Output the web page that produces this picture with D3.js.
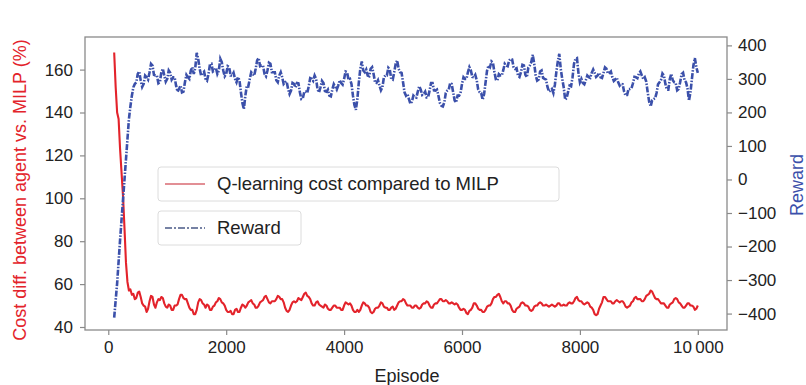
<!DOCTYPE html>
<html lang="en">
<head>
<meta charset="utf-8">
<script src="https://d3js.org/d3.v7.min.js"></script>
<style>
  body { margin: 0; background: #fff; }
  svg { font-family: "Liberation Sans", Arial, Helvetica, sans-serif; }
</style>
</head>
<body>
<script>
// episodes sampled every 25 from 100 to 10000
var episodes = d3.range(100, 10001, 25);

// cost difference vs MILP (%)
var costDiff = [
  168, 152, 140, 137, 123, 112, 101, 86, 70, 61, 57, 57.5, 55, 55.5, 53, 53.5, 56, 56.5, 54, 51,
  50, 49.5, 47, 48.5, 52, 54.5, 54, 50.5, 49, 51.5, 53, 52.5, 54, 53.5, 51, 49.5, 49, 50.5, 50, 48,
  48, 50, 50, 50.5, 53, 55, 55, 53.5, 53, 53, 51, 49, 48, 48, 46, 46, 48, 51.5, 53, 52.5,
  51, 50.5, 49, 50.5, 50, 48, 48, 49.5, 50, 51.5, 52, 53.5, 53, 51.5, 51, 50, 48, 47, 47, 47.5,
  46, 46, 48, 48.5, 47, 47, 49, 50.5, 50, 49, 50, 51.5, 52, 52.5, 51, 50.5, 49, 49, 50, 51.5,
  52, 52.5, 54, 54.5, 53, 51.5, 51, 52, 52, 52, 53, 54.5, 54, 53, 53, 51.5, 49, 47.5, 47, 48,
  50, 51.5, 52, 51.5, 52, 53.5, 53, 52.5, 54, 55.5, 56, 54.5, 54, 53, 51, 50, 50, 51.5, 52, 50.5,
  50, 49.5, 49, 50.5, 50, 48.5, 48, 48, 49, 50, 50, 49, 49, 49, 48, 48, 50, 51.5, 51, 50.5,
  51, 50, 48, 47, 47, 48, 47, 48, 50, 51.5, 51, 50, 50, 49, 47, 46.5, 47, 48.5, 49, 49,
  50, 51.5, 51, 49.5, 49, 49, 48, 48, 49, 49.5, 48, 48.5, 50, 51.5, 52, 52, 53, 52.5, 51, 50,
  50, 50, 49, 49, 50, 50, 49, 48.5, 49, 50.5, 51, 51, 52, 51.5, 50, 49, 49, 50.5, 51, 51,
  52, 53, 53, 52, 52, 52.5, 52, 51, 51, 51.5, 51, 50.5, 51, 50.5, 49, 48, 48, 48.5, 48, 46.5,
  46, 47.5, 48, 49, 51, 51, 50, 48.5, 48, 48, 47, 47, 48, 49.5, 50, 50, 51, 53, 54, 54,
  55, 55.5, 54, 52, 51, 52, 52, 51, 51, 50, 48, 47, 47, 48.5, 49, 49.5, 51, 51.5, 51, 50,
  50, 49.5, 48, 47.5, 48, 49.5, 50, 50, 51, 51.5, 51, 50, 50, 50.5, 50, 49.5, 50, 50.5, 50, 49.5,
  50, 51, 51, 50, 50, 50.5, 50, 50, 51, 51.5, 51, 51, 52, 53.5, 54, 52.5, 52, 52, 51, 50.5,
  51, 51.5, 51, 49.5, 49, 48, 46, 45.5, 46, 48.5, 50, 51.5, 54, 54, 53, 52, 52, 52, 51, 51,
  52, 52.5, 52, 51.5, 52, 52, 51, 49.5, 49, 49.5, 50, 51.5, 52, 53.5, 54, 53, 53, 53, 52, 52,
  53, 54.5, 55, 55.5, 57, 56.5, 55, 53.5, 53, 53, 52, 51, 51, 51, 50, 49, 49, 50.5, 51, 51.5,
  53, 53.5, 53, 51.5, 51, 50, 49, 49, 50, 51, 51, 50, 50, 49.5, 48, 48.5, 50
];

// reward
var reward = [
  -412, -361, -310, -245, -180, -120, -60, 0, 60, 120, 180, 218, 250, 275, 285, 290, 315, 322, 295, 276,
  285, 310, 305, 298, 320, 345, 340, 312, 310, 310, 287, 290, 320, 330, 310, 292, 300, 325, 318, 298,
  305, 305, 280, 262, 270, 280, 260, 262, 290, 312, 305, 300, 325, 335, 315, 332, 378, 360, 330, 310,
  318, 322, 300, 295, 315, 343, 345, 322, 325, 333, 315, 325, 360, 350, 325, 308, 315, 338, 335, 310,
  310, 318, 300, 290, 305, 296, 260, 228, 210, 250, 280, 278, 300, 320, 315, 310, 330, 355, 362, 338,
  340, 340, 315, 308, 325, 348, 345, 320, 320, 320, 296, 290, 310, 320, 305, 285, 290, 292, 270, 255,
  265, 288, 285, 275, 288, 287, 260, 240, 242, 262, 262, 258, 278, 302, 300, 294, 310, 300, 268, 260,
  275, 294, 288, 264, 262, 268, 250, 248, 268, 284, 276, 268, 280, 296, 288, 283, 300, 322, 320, 298,
  300, 285, 250, 222, 208, 240, 290, 330, 352, 325, 320, 328, 310, 308, 330, 335, 315, 290, 288, 296,
  280, 266, 275, 305, 310, 310, 333, 328, 300, 298, 320, 345, 355, 330, 320, 318, 290, 260, 250, 255,
  240, 226, 232, 250, 245, 244, 262, 278, 268, 252, 255, 262, 245, 246, 265, 288, 288, 266, 265, 268,
  250, 228, 220, 218, 230, 258, 265, 268, 288, 285, 260, 236, 230, 250, 250, 258, 285, 305, 300, 300,
  320, 335, 325, 306, 305, 312, 296, 268, 260, 258, 238, 255, 290, 325, 340, 335, 352, 348, 320, 298,
  296, 314, 310, 310, 326, 345, 340, 338, 355, 360, 358, 335, 330, 332, 310, 306, 320, 342, 340, 312,
  305, 334, 340, 350, 372, 345, 310, 295, 298, 322, 325, 303, 300, 298, 276, 262, 265, 270, 258, 282,
  320, 352, 375, 330, 300, 275, 238, 243, 262, 280, 278, 305, 345, 360, 362, 318, 290, 300, 288, 284,
  296, 310, 305, 303, 318, 328, 318, 306, 310, 318, 305, 303, 318, 334, 330, 316, 318, 322, 305, 294,
  298, 304, 290, 280, 285, 284, 262, 250, 252, 270, 270, 272, 287, 306, 305, 302, 316, 322, 310, 300,
  305, 292, 260, 232, 218, 236, 240, 242, 258, 284, 290, 296, 316, 310, 285, 268, 268, 300, 315, 296,
  290, 288, 266, 270, 290, 314, 318, 296, 290, 272, 235, 260, 300, 340, 362, 335, 318
];

var xTicks = [0, 2000, 4000, 6000, 8000, 10000];
var leftTicks = [40, 60, 80, 100, 120, 140, 160];
var rightTicks = [-400, -300, -200, -100, 0, 100, 200, 300, 400];

var width = 806, height = 385;
var plotL = 85, plotR = 727, plotT = 37, plotB = 330;
var red = "#e3232b", blue = "#3b50aa", frame = "#8a8a8a", ink = "#222";

var svg = d3.select("body").append("svg")
  .attr("width", width)
  .attr("height", height);

var x = d3.scaleLinear().domain([-395, 10495]).range([plotL, plotR]);
var yL = d3.scaleLinear().domain([38.6, 175.2]).range([plotB, plotT]);
var yR = d3.scaleLinear().domain([-449, 425]).range([plotB, plotT]);

function fmtX(d) { return d === 10000 ? "10\u2009000" : d; }
function fmtR(d) { return d < 0 ? "\u2212" + Math.abs(d) : d; }

// axes
var gx = svg.append("g").attr("transform", "translate(0," + plotB + ")")
  .call(d3.axisBottom(x).tickValues(xTicks).tickFormat(fmtX).tickSize(5).tickPadding(6));
var gl = svg.append("g").attr("transform", "translate(" + plotL + ",0)")
  .call(d3.axisLeft(yL).tickValues(leftTicks).tickSize(5).tickPadding(7));
var gr = svg.append("g").attr("transform", "translate(" + plotR + ",0)")
  .call(d3.axisRight(yR).tickValues(rightTicks).tickFormat(fmtR).tickSize(5).tickPadding(6));

[gx, gl, gr].forEach(function (g) {
  g.select(".domain").remove();
  g.selectAll(".tick line").attr("stroke", frame).attr("stroke-width", 1.2);
  g.selectAll(".tick text").attr("fill", ink).style("font-size", "17px");
});

// frame
svg.append("rect")
  .attr("x", plotL).attr("y", plotT)
  .attr("width", plotR - plotL).attr("height", plotB - plotT)
  .attr("fill", "none").attr("stroke", frame).attr("stroke-width", 1.3);

// lines
var costLine = d3.line()
  .x(function (d, i) { return x(episodes[i]); })
  .y(function (d) { return yL(d); });
var rewardLine = d3.line()
  .x(function (d, i) { return x(episodes[i]); })
  .y(function (d) { return yR(d); });

svg.append("path")
  .datum(costDiff)
  .attr("d", costLine)
  .attr("fill", "none")
  .attr("stroke", red)
  .attr("stroke-width", 2.1)
  .attr("stroke-linejoin", "round");

svg.append("path")
  .datum(reward)
  .attr("d", rewardLine)
  .attr("fill", "none")
  .attr("stroke", blue)
  .attr("stroke-width", 2.6)
  .attr("stroke-dasharray", "6,1.5,1.5,1.5");

// legends
function legend(y0, w, label, color, dash) {
  var g = svg.append("g");
  g.append("rect")
    .attr("x", 158).attr("y", y0).attr("width", w).attr("height", 34)
    .attr("rx", 3).attr("fill", "#fff").attr("fill-opacity", 0.9)
    .attr("stroke", "#dcdcdc");
  g.append("line")
    .attr("x1", 165).attr("x2", 205)
    .attr("y1", y0 + 17).attr("y2", y0 + 17)
    .attr("stroke", color).attr("stroke-width", 1.5)
    .attr("stroke-dasharray", dash);
  g.append("text")
    .attr("x", 217).attr("y", y0 + 17).attr("dy", "0.35em")
    .attr("fill", ink).style("font-size", "18.5px")
    .text(label);
}
legend(167, 401, "Q-learning cost compared to MILP", "#d86a72", null);
legend(211, 143, "Reward", "#4a5a86", "7,2,2,2");

// axis titles
svg.append("text")
  .attr("transform", "translate(26,190) rotate(-90)")
  .attr("text-anchor", "middle")
  .attr("fill", red).style("font-size", "18px")
  .text("Cost diff. between agent vs. MILP (%)");

svg.append("text")
  .attr("transform", "translate(803,185) rotate(-90)")
  .attr("text-anchor", "middle")
  .attr("fill", blue).style("font-size", "18px")
  .text("Reward");

svg.append("text")
  .attr("x", (x(0) + x(10000)) / 2 + 4).attr("y", 382)
  .attr("text-anchor", "middle")
  .attr("fill", ink).style("font-size", "18px")
  .text("Episode");
</script>
</body>
</html>
